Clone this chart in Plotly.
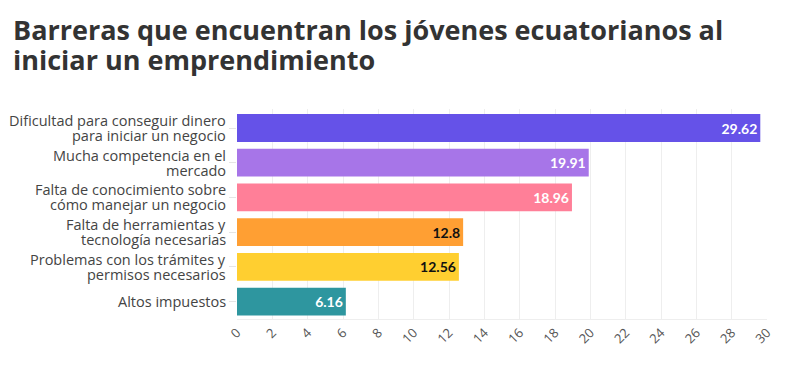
import plotly.graph_objects as go

categories = [
    "Dificultad para conseguir dinero<br>para iniciar un negocio",
    "Mucha competencia en el<br>mercado",
    "Falta de conocimiento sobre<br>cómo manejar un negocio",
    "Falta de herramientas y<br>tecnología necesarias",
    "Problemas con los trámites y<br>permisos necesarios",
    "Altos impuestos",
]
values = [29.62, 19.91, 18.96, 12.8, 12.56, 6.16]
labels = ["29.62", "19.91", "18.96", "12.8", "12.56", "6.16"]
colors = ["#6552E8", "#A775E8", "#FF7F98", "#FF9F33", "#FFCF30", "#2E969F"]
text_colors = ["#FFFFFF", "#FFFFFF", "#FFFFFF", "#111111", "#111111", "#FFFFFF"]
ticks = list(range(0, 31, 2))
title_lines = ["Barreras que encuentran los jóvenes ecuatorianos al", "iniciar un emprendimiento"]

# page body has an 8px margin; compensate so the plot sits where the reference has it
L, R, T, B = 229, 35, 101, 55
W, H = 794, 366
plot_w = W - L - R
plot_h = H - T - B

fig = go.Figure(go.Bar(
    x=values, y=categories, orientation="h",
    marker=dict(color=colors, line=dict(width=0)),
    text=labels, textposition="inside", insidetextanchor="end",
    textfont=dict(family="Lato", size=14, color=text_colors, weight="bold"),
    cliponaxis=False,
))

# title lines
for i, (line, py) in enumerate(zip(title_lines, [21, 52])):
    fig.add_annotation(
        text=line, xref="paper", yref="paper",
        x=(3 - L) / plot_w, y=(H - B - py) / plot_h,
        xanchor="left", yanchor="middle", showarrow=False,
        font=dict(family="Open Sans", size=27, color="#333333", weight="bold"),
    )

# category labels, line by line for tighter line spacing
for cat in categories:
    parts = cat.split("<br>")
    if len(parts) == 1:
        shifts = [0]
    else:
        shifts = [7.5, -7.5]
    for part, s in zip(parts, shifts):
        fig.add_annotation(
            text=part, xref="paper", yref="y", x=0, y=cat,
            xanchor="right", yanchor="middle", xshift=-9, yshift=s,
            showarrow=False,
            font=dict(family="Open Sans", size=14.5, color="#444444"),
        )

fig.update_layout(
    width=W, height=H,
    margin=dict(l=L, r=R, t=T, b=B),
    paper_bgcolor="white", plot_bgcolor="white",
    bargap=0.2,
    showlegend=False,
    xaxis=dict(
        range=[0, 30], tickvals=ticks, tickangle=-45,
        showgrid=True, gridcolor="#EEEEEE", gridwidth=1,
        zeroline=False, showline=True, linecolor="#EEEEEE",
        tickfont=dict(family="Open Sans", size=13, color="#555555"),
        ticks="", fixedrange=True, automargin=False,
    ),
    yaxis=dict(
        autorange="reversed", automargin=False, showticklabels=False,
        ticks="outside", ticklen=7, tickcolor="#E5E5E5",
        showline=False, showgrid=False,
    ),
)

fig.write_html("out.html")
